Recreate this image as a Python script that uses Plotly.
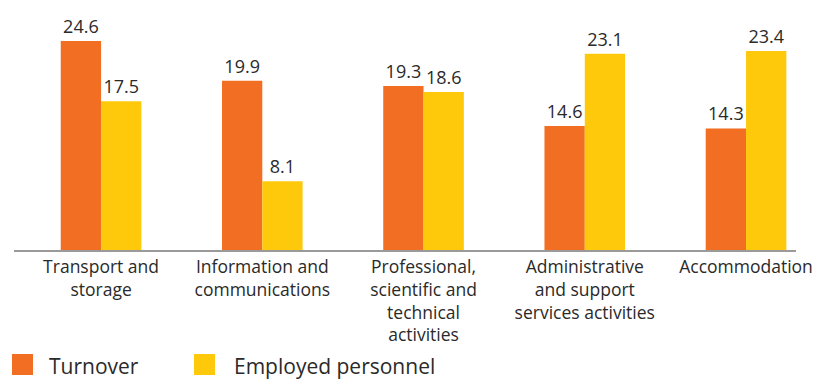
import plotly.graph_objects as go

categories = [
    "Transport and<br>storage",
    "Information and<br>communications",
    "Professional,<br>scientific and<br>technical<br>activities",
    "Administrative<br>and support<br>services activities",
    "Accommodation",
]
series_names = ["Turnover", "Employed personnel"]
turnover = [24.6, 19.9, 19.3, 14.6, 14.3]
employed = [17.5, 8.1, 18.6, 23.1, 23.4]

colors = ["#F26E22", "#FFC90B"]
FONT = "Open Sans, Liberation Sans, Arial, sans-serif"
TXT = "#2A2A2A"

W, H = 834, 380
ML, MR, MT, MB = 14, 38, 12, 130
pw = W - ML - MR
ph = H - MT - MB

fig = go.Figure()
for name, vals, col in zip(series_names, [turnover, employed], colors):
    fig.add_trace(go.Bar(
        name=name, x=categories, y=vals, marker=dict(color=col, line=dict(width=0)),
        text=[f"{v:.1f}" for v in vals], textposition="outside",
        textfont=dict(size=18, color=TXT, family=FONT), cliponaxis=False,
        showlegend=False,
    ))

# manual legend (large squares)
legend_px = [(12, 47), (194, 232)]
for (sx, tx), name, col in zip(legend_px, series_names, colors):
    fig.add_shape(type="rect", xref="paper", yref="paper",
                  x0=(sx - ML) / pw, x1=(sx + 21 - ML) / pw,
                  y0=(MT + ph - 375) / ph, y1=(MT + ph - 354) / ph,
                  fillcolor=col, line=dict(width=0))
    fig.add_annotation(xref="paper", yref="paper", x=(tx - ML) / pw,
                       y=(MT + ph - 366) / ph, xanchor="left", yanchor="middle",
                       text=name, showarrow=False,
                       font=dict(size=21, color=TXT, family=FONT))

fig.update_layout(
    width=W, height=H, margin=dict(l=ML, r=MR, t=MT, b=MB),
    barmode="group", bargap=0.5, bargroupgap=0,
    plot_bgcolor="white", paper_bgcolor="white",
    font=dict(family=FONT, color=TXT, size=18),
)
fig.update_xaxes(range=[-0.54, 4.31], showline=True, linecolor="#9A9A9A", linewidth=2,
                 ticks="", showgrid=False, tickfont=dict(size=17.5, color=TXT, family=FONT))
fig.update_yaxes(range=[0, 28], visible=False, showgrid=False, zeroline=False)

fig.write_html("out.html", config={"displayModeBar": False},
               post_script="document.body.style.margin='0';document.body.style.overflow='hidden';")
